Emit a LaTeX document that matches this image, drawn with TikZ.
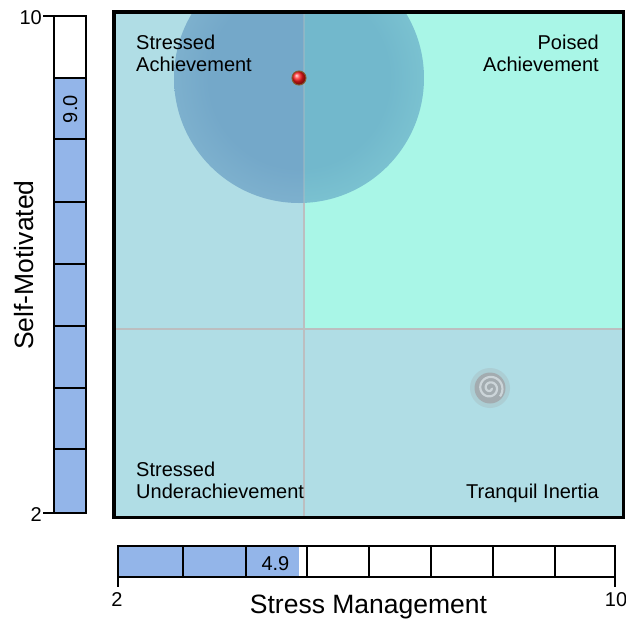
\documentclass[tikz,border=0pt]{standalone}
\usepackage{fontspec}
\setmainfont{Liberation Sans}

\definecolor{quadblue}{RGB}{176,221,229}
\definecolor{quadaqua}{RGB}{169,246,231}
\definecolor{barblue}{RGB}{147,181,233}
\definecolor{divgray}{RGB}{188,190,192}
\definecolor{spiralgray}{RGB}{163,172,176}
\definecolor{spirallight}{RGB}{204,213,217}
\definecolor{glowleftin}{RGB}{116,168,201}
\definecolor{glowleftout}{RGB}{158,206,221}
\definecolor{glowrightin}{RGB}{114,184,204}
\definecolor{glowrightout}{RGB}{152,227,223}

\pgfdeclareradialshading{glowleft}{\pgfpointorigin}{color(0bp)=(glowleftin); color(18bp)=(glowleftin); color(50bp)=(glowleftout)}
\pgfdeclareradialshading{glowright}{\pgfpointorigin}{color(0bp)=(glowrightin); color(18bp)=(glowrightin); color(50bp)=(glowrightout)}

\begin{document}
\begin{tikzpicture}[x=1pt,y=-1pt,
    smalltext/.style={inner sep=0pt,font=\fontsize{20}{22}\selectfont},
    bigtext/.style={inner sep=0pt,font=\fontsize{26.5}{30}\selectfont},
    barline/.style={draw=black,line width=2},
    divider/.style={draw=divgray,line width=2}]
  \useasboundingbox (0,0) rectangle (626,619);

  % plot area
  \begin{scope}
    \clip (116,13.5) rectangle (622,516);
    \fill[quadblue] (116,13.5) rectangle (622,516);
    \fill[quadaqua] (304.3,13.5) rectangle (622,328.5);
    \begin{scope}
      \clip (116,13.5) rectangle (304.3,328.5);
      \shade[shading=glowleft] (299,78) circle (125);
    \end{scope}
    \begin{scope}
      \clip (304.3,13.5) rectangle (622,328.5);
      \shade[shading=glowright] (299,78) circle (125);
    \end{scope}
    \draw[divider] (304.3,203) -- (304.3,516);
    \draw[divider] (116,328.5) -- (622,328.5);
    \draw[divider,opacity=0.35] (304.3,13.5) -- (304.3,203);
  \end{scope}
  \draw[line width=3.5] (114,11.75) rectangle (623.7,517.5);

  % spiral
  \fill[spiralgray,opacity=0.3] (490,388) circle (20);
  \fill[spiralgray] (490,388) circle (15.5);
  \draw[spirallight,line width=2.2,domain=0:760,samples=90,variable=\t]
    plot ({490+(1.5+\t/760*11.5)*cos(\t)},{388+(1.5+\t/760*11.5)*sin(\t)});

  % marker
  \node[circle,minimum size=14,inner sep=0pt,ball color=red!90!white,draw=brown!70!black,line width=1] (dot) at (299,78) {};

  % quadrant labels
  \node[smalltext,align=left,anchor=north west] (sa) at (136,35) {Stressed\\Achievement};
  \node[smalltext,align=right,anchor=north east] (pa) at (599,35) {Poised\\Achievement};
  \node[smalltext,align=left,anchor=north west] (su) at (136,461.5) {Stressed\\Underachievement};
  \node[smalltext,anchor=north east] (ti) at (599,483.5) {Tranquil Inertia};

  % vertical bar
  \fill[white] (54.3,15.5) rectangle (85.5,513);
  \fill[barblue] (54.3,77.5) rectangle (85.5,513);
  \begin{scope}[barline]
    \draw (54.3,77.5) -- (85.5,77.5);
    \draw (54.3,139) -- (85.5,139);
    \draw (54.3,201.5) -- (85.5,201.5);
    \draw (54.3,264) -- (85.5,264);
    \draw (54.3,325.5) -- (85.5,325.5);
    \draw (54.3,387.5) -- (85.5,387.5);
    \draw (54.3,449) -- (85.5,449);
    \draw (54.3,15.5) rectangle (85.5,513);
    \draw (43,15.5) -- (54.3,15.5);
    \draw (43,513) -- (54.3,513);
  \end{scope}
  \node[smalltext,rotate=90,anchor=base east] (yval) at (77,95) {9.0};
  \node[smalltext,anchor=base east] (ymax) at (42,24) {10};
  \node[smalltext,anchor=base east] (ymin) at (42,521.5) {2};
  \node[bigtext,rotate=90,anchor=base] (ylabel) at (33,265) {Self-Motivated};

  % horizontal bar
  \fill[white] (118.3,545.5) rectangle (615,576.5);
  \fill[barblue] (118.3,545.5) rectangle (299,576.5);
  \begin{scope}[barline]
    \draw (183,545.5) -- (183,576.5);
    \draw (245.5,545.5) -- (245.5,576.5);
    \draw (307,545.5) -- (307,576.5);
    \draw (368.5,545.5) -- (368.5,576.5);
    \draw (430.5,545.5) -- (430.5,576.5);
    \draw (493,545.5) -- (493,576.5);
    \draw (555.3,545.5) -- (555.3,576.5);
    \draw (118.3,545.5) rectangle (615,576.5);
    \draw (118.3,576.5) -- (118.3,587);
    \draw (615,576.5) -- (615,587);
  \end{scope}
  \node[smalltext,anchor=base east] (xval) at (289.5,570) {4.9};
  \node[smalltext,anchor=base] (xmin) at (117,606.5) {2};
  \node[smalltext,anchor=base] (xmax) at (616,606.5) {10};
  \node[bigtext,anchor=base] (xlabel) at (368.5,613.5) {Stress Management};
\end{tikzpicture}
\end{document}
